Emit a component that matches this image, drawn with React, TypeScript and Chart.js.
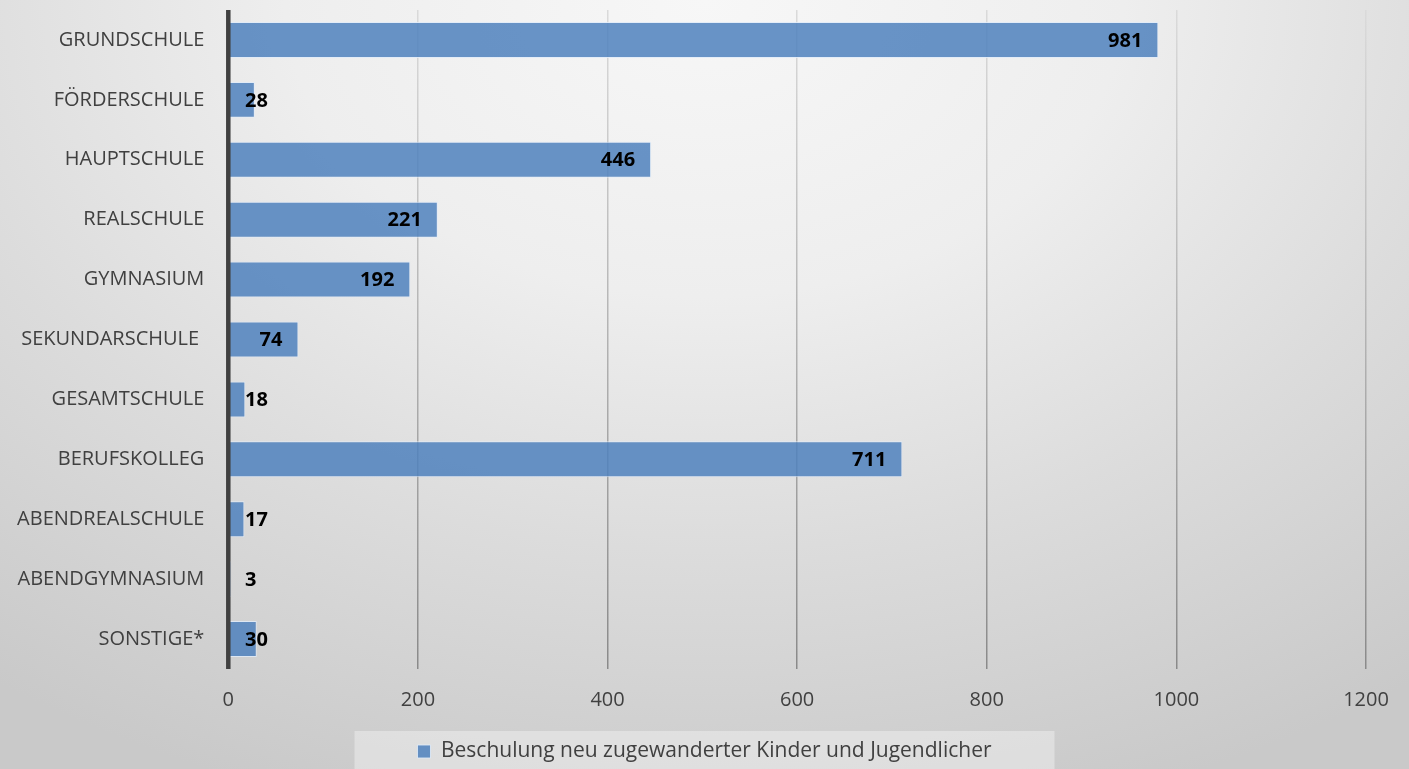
import React, { useEffect, useRef } from "react";
import { Chart, registerables } from "chart.js";

Chart.register(...registerables);

const categories = [
  "GRUNDSCHULE",
  "FÖRDERSCHULE",
  "HAUPTSCHULE",
  "REALSCHULE",
  "GYMNASIUM",
  "SEKUNDARSCHULE ",
  "GESAMTSCHULE",
  "BERUFSKOLLEG",
  "ABENDREALSCHULE",
  "ABENDGYMNASIUM",
  "SONSTIGE*",
];
const values = [981, 28, 446, 221, 192, 74, 18, 711, 17, 3, 30];
const seriesName = "Beschulung neu zugewanderter Kinder und Jugendlicher";
const xMin = 0;
const xMax = 1200;
const xStep = 200;

const FONT = "'Open Sans', sans-serif";

const valueLabelPlugin = {
  id: "valueLabels",
  afterDatasetsDraw(chart: any) {
    const { ctx, chartArea } = chart;
    ctx.save();
    // vertical category axis line drawn over the bars
    ctx.strokeStyle = "#404040";
    ctx.lineWidth = 4.5;
    ctx.beginPath();
    ctx.moveTo(chartArea.left, chartArea.top);
    ctx.lineTo(chartArea.left, chartArea.bottom);
    ctx.stroke();

    const meta = chart.getDatasetMeta(0);
    ctx.font = `bold 20px ${FONT}`;
    ctx.fillStyle = "#000000";
    ctx.textBaseline = "middle";
    ctx.textAlign = "left";
    meta.data.forEach((el: any, i: number) => {
      const txt = String(chart.data.datasets[0].data[i]);
      const w = ctx.measureText(txt).width;
      const right = Math.max(el.x - 16, el.base + 16 + w);
      ctx.fillText(txt, right - w, el.y + 1);
    });
    ctx.restore();
  },
};

const legendBgPlugin = {
  id: "legendBg",
  beforeDraw(chart: any) {
    const lg = chart.legend;
    if (!lg || !lg.legendHitBoxes || !lg.legendHitBoxes.length) return;
    const hb = lg.legendHitBoxes[0];
    const { ctx } = chart;
    ctx.save();
    ctx.fillStyle = "rgba(255,255,255,0.35)";
    const x = hb.left - 63;
    const w = hb.width + 126;
    const y = lg.top;
    ctx.fillRect(x, y, w, chart.height - y + 5);
    ctx.restore();
  },
};

export default function App() {
  const canvasRef = useRef<HTMLCanvasElement | null>(null);

  useEffect(() => {
    document.body.style.margin = "0";
    const canvas = canvasRef.current;
    if (!canvas) return;
    const chart = new Chart(canvas, {
      type: "bar",
      data: {
        labels: categories,
        datasets: [
          {
            label: seriesName,
            data: values,
            backgroundColor: "rgba(79,129,189,0.85)",
            borderColor: "rgba(225,235,248,0.85)",
            borderWidth: 1,
            barPercentage: 0.6,
            categoryPercentage: 1,
          },
        ],
      },
      options: {
        indexAxis: "y",
        animation: false,
        responsive: true,
        maintainAspectRatio: false,
        layout: { padding: { top: 10, right: 0, left: 0, bottom: -3 } },
        scales: {
          x: {
            min: xMin,
            max: xMax,
            ticks: {
              stepSize: xStep,
              color: "#404040",
              font: { family: FONT, size: 20 },
              padding: 19,
              callback: (v: any) => String(v),
            },
            grid: {
              drawTicks: false,
              lineWidth: 1.5,
              color: (ctx: any) => {
                const chart = ctx.chart;
                const area = chart.chartArea;
                if (!area) return "#bbbbbb";
                const g = chart.ctx.createLinearGradient(0, area.top, 0, area.bottom);
                g.addColorStop(0, "#dadada");
                g.addColorStop(1, "#8a8a8a");
                return g;
              },
            },
            border: { display: false },
            afterFit: (scale: any) => {
              scale.height = 62;
              scale.paddingLeft = 0;
              scale.paddingRight = 43;
            },
          },
          y: {
            ticks: {
              color: "#404040",
              font: { family: FONT, size: 20 },
              padding: 24,
            },
            grid: { display: false, drawTicks: false },
            border: { display: false },
            afterFit: (scale: any) => {
              scale.width = 228.3;
              scale.paddingTop = 0;
              scale.paddingBottom = 0;
            },
          },
        },
        plugins: {
          legend: {
            position: "bottom",
            labels: {
              boxWidth: 13,
              boxHeight: 13,
              color: "#404040",
              font: { family: FONT, size: 21 },
              padding: 10,
            },
          },
          tooltip: { enabled: false },
        },
      },
      plugins: [valueLabelPlugin, legendBgPlugin],
    });
    return () => chart.destroy();
  }, []);

  return (
    <div
      style={{
        position: "fixed",
        left: 0,
        top: 0,
        width: 1409,
        height: 769,
        background:
          "radial-gradient(ellipse 85% 110% at 50% 0%, #f7f7f7 0%, #eeeeee 35%, #dcdcdc 65%, #c9c9c9 100%)",
      }}
    >
      <canvas ref={canvasRef} />
    </div>
  );
}
